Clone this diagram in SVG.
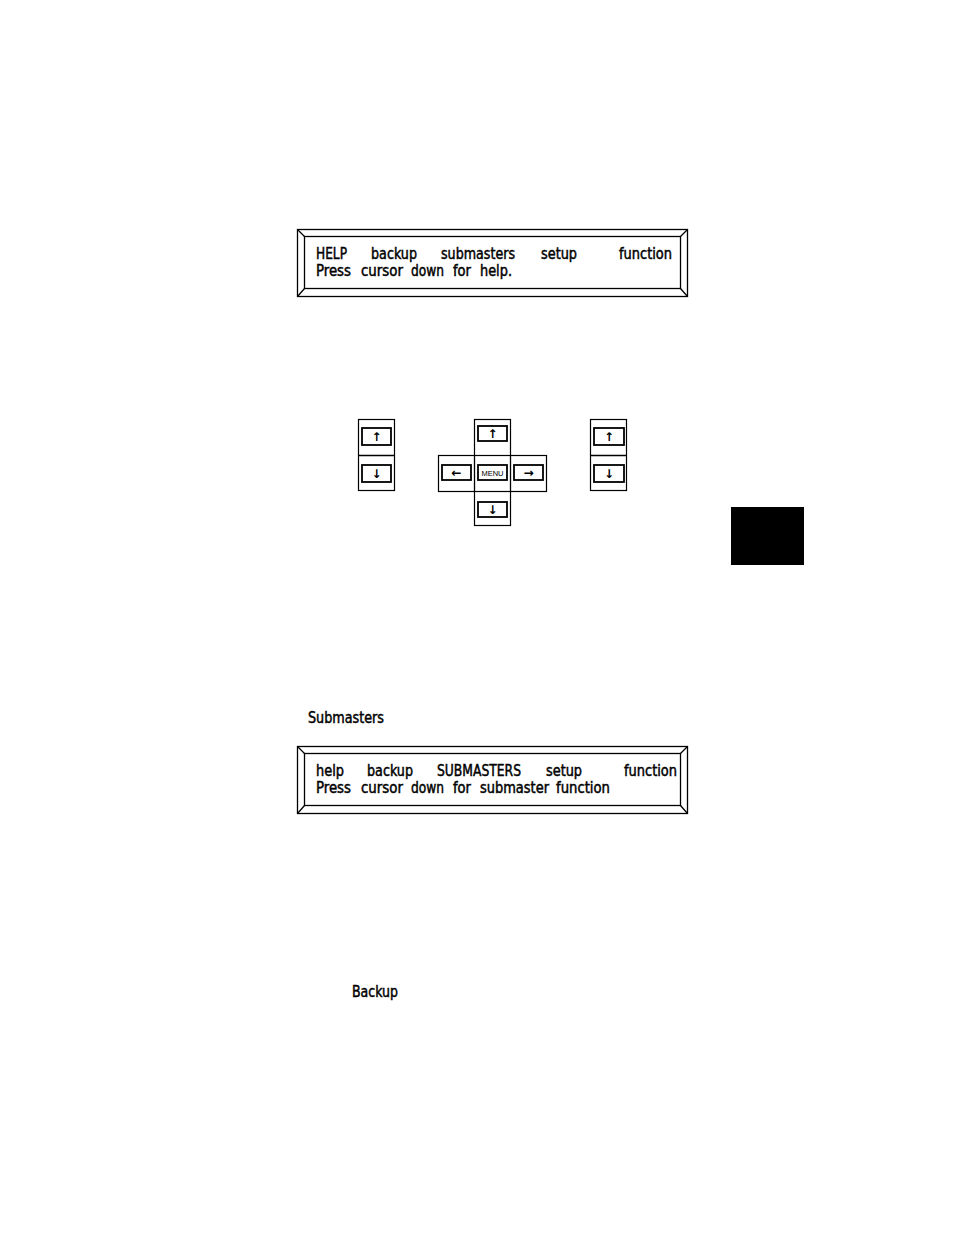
<svg xmlns="http://www.w3.org/2000/svg" width="954" height="1235" viewBox="0 0 954 1235">
<style>
.f{fill:none;stroke:#000;stroke-width:1.3}
.b{fill:#fff;stroke:#000;stroke-width:1.2}
.bb{fill:#fff;stroke:#000;stroke-width:1.8}
.t{font-family:"Liberation Sans Narrow","DejaVu Sans Condensed","Liberation Sans",sans-serif;font-size:15px;fill:#000;stroke:#000;stroke-width:0.45}
.a{font-family:"DejaVu Sans",sans-serif;font-size:12px;font-weight:bold;fill:#000;text-anchor:middle}
.m{font-family:"Liberation Sans Narrow","Liberation Sans",sans-serif;font-size:7.5px;fill:#000;text-anchor:middle}
</style>
<rect width="954" height="1235" fill="#fff"/>
<g id="display1">
<rect class="f" x="297.5" y="229.5" width="390" height="67"/>
<rect class="f" x="304.5" y="236.5" width="376" height="52"/>
<path class="f" d="M297.5 229.5L304.5 236.5M687.5 229.5L680.5 236.5M297.5 296.5L304.5 288.5M687.5 296.5L680.5 288.5"/>
<text class="t" x="316" y="259" textLength="31" lengthAdjust="spacingAndGlyphs">HELP</text>
<text class="t" x="371" y="259" textLength="46" lengthAdjust="spacingAndGlyphs">backup</text>
<text class="t" x="441" y="259" textLength="74" lengthAdjust="spacingAndGlyphs">submasters</text>
<text class="t" x="541" y="259" textLength="36" lengthAdjust="spacingAndGlyphs">setup</text>
<text class="t" x="619" y="259" textLength="53" lengthAdjust="spacingAndGlyphs">function</text>
<text class="t" x="316" y="276" textLength="35" lengthAdjust="spacingAndGlyphs">Press</text>
<text class="t" x="361" y="276" textLength="42" lengthAdjust="spacingAndGlyphs">cursor</text>
<text class="t" x="411" y="276" textLength="33" lengthAdjust="spacingAndGlyphs">down</text>
<text class="t" x="453" y="276" textLength="18" lengthAdjust="spacingAndGlyphs">for</text>
<text class="t" x="480" y="276" textLength="32" lengthAdjust="spacingAndGlyphs">help.</text>
</g>
<g id="keys-left">
<rect class="b" x="358.5" y="419.5" width="36" height="71"/>
<line class="f" x1="358.5" y1="455.5" x2="394.5" y2="455.5"/>
<rect class="bb" x="362" y="428" width="29" height="17"/>
<rect class="bb" x="362" y="465" width="29" height="17"/>
<text class="a" x="376.5" y="441">↑</text>
<text class="a" x="376.5" y="478">↓</text>
</g>
<g id="keys-cross">
<rect class="b" x="474.5" y="419.5" width="36" height="106"/>
<rect class="b" x="438.5" y="455.5" width="108" height="36"/>
<line class="f" x1="474.5" y1="455.5" x2="474.5" y2="491.5"/>
<line class="f" x1="510.5" y1="455.5" x2="510.5" y2="491.5"/>
<rect class="bb" x="478" y="426" width="29" height="15"/>
<rect class="bb" x="442" y="465" width="29" height="15"/>
<rect class="bb" x="478" y="465" width="29" height="15"/>
<rect class="bb" x="514" y="465" width="29" height="15"/>
<rect class="bb" x="478" y="502" width="29" height="15"/>
<text class="a" x="492.5" y="438">↑</text>
<text class="a" x="456.5" y="477">←</text>
<text class="m" x="492.5" y="475.5">MENU</text>
<text class="a" x="528.5" y="477">→</text>
<text class="a" x="492.5" y="514">↓</text>
</g>
<g id="keys-right">
<rect class="b" x="590.5" y="419.5" width="36" height="71"/>
<line class="f" x1="590.5" y1="455.5" x2="626.5" y2="455.5"/>
<rect class="bb" x="594" y="428" width="30" height="17"/>
<rect class="bb" x="594" y="465" width="30" height="17"/>
<text class="a" x="609" y="441">↑</text>
<text class="a" x="609" y="478">↓</text>
</g>
<g id="tab">
<rect x="731" y="507" width="73" height="58" fill="#000"/>
</g>
<g id="label-submasters">
<text class="t" x="308" y="723" textLength="76" lengthAdjust="spacingAndGlyphs">Submasters</text>
</g>
<g id="display2">
<rect class="f" x="297.5" y="746.5" width="390" height="67"/>
<rect class="f" x="304.5" y="753.5" width="376" height="52"/>
<path class="f" d="M297.5 746.5L304.5 753.5M687.5 746.5L680.5 753.5M297.5 813.5L304.5 805.5M687.5 813.5L680.5 805.5"/>
<text class="t" x="316" y="776" textLength="28" lengthAdjust="spacingAndGlyphs">help</text>
<text class="t" x="367" y="776" textLength="46" lengthAdjust="spacingAndGlyphs">backup</text>
<text class="t" x="437" y="776" textLength="84" lengthAdjust="spacingAndGlyphs">SUBMASTERS</text>
<text class="t" x="546" y="776" textLength="36" lengthAdjust="spacingAndGlyphs">setup</text>
<text class="t" x="624" y="776" textLength="53" lengthAdjust="spacingAndGlyphs">function</text>
<text class="t" x="316" y="793" textLength="35" lengthAdjust="spacingAndGlyphs">Press</text>
<text class="t" x="361" y="793" textLength="42" lengthAdjust="spacingAndGlyphs">cursor</text>
<text class="t" x="411" y="793" textLength="33" lengthAdjust="spacingAndGlyphs">down</text>
<text class="t" x="453" y="793" textLength="18" lengthAdjust="spacingAndGlyphs">for</text>
<text class="t" x="480" y="793" textLength="69" lengthAdjust="spacingAndGlyphs">submaster</text>
<text class="t" x="556" y="793" textLength="54" lengthAdjust="spacingAndGlyphs">function</text>
</g>
<g id="label-backup">
<text class="t" x="352" y="997" textLength="46" lengthAdjust="spacingAndGlyphs">Backup</text>
</g>
<g id="connectors"></g>
</svg>
